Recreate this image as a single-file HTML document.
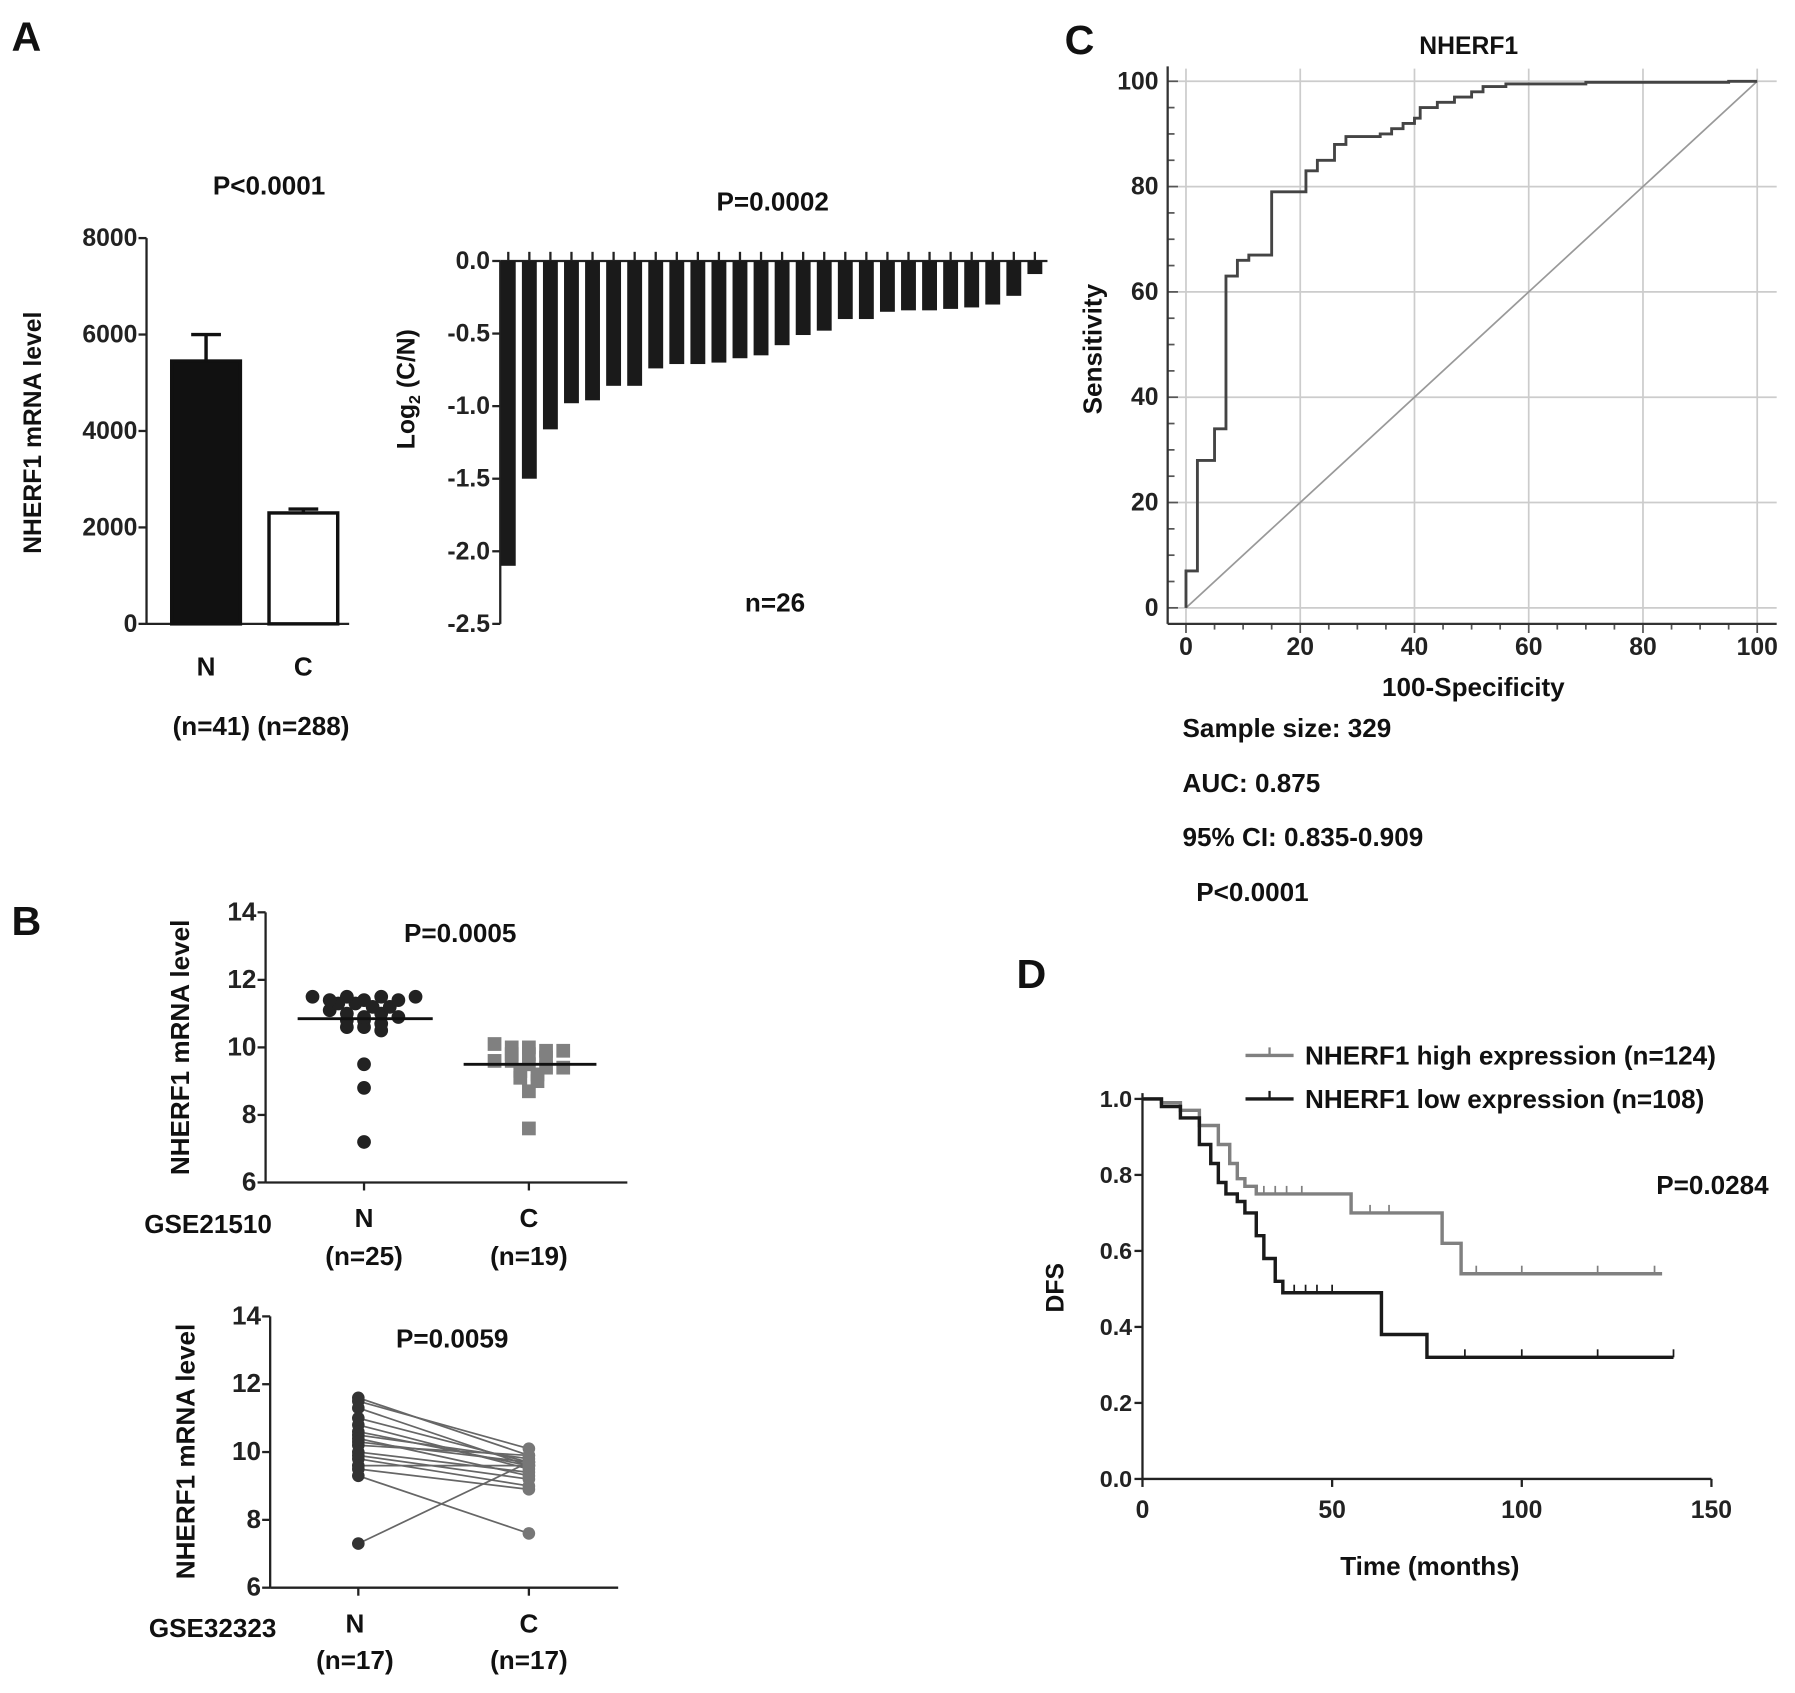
<!DOCTYPE html>
<html><head><meta charset="utf-8"><style>
html,body{margin:0;padding:0;background:#fff;}
svg{display:block;font-family:"Liberation Sans",Arial,sans-serif;font-weight:bold;}
</style></head><body>
<svg id="fig" width="1795" height="1693" viewBox="0 0 1568 1479" preserveAspectRatio="none" xmlns="http://www.w3.org/2000/svg">
<rect width="1568" height="1479" fill="#fff"/>
<g font-size="36" fill="#111">
<text x="10" y="44">A</text>
<text x="10" y="817">B</text>
<text x="930" y="47">C</text>
<text x="888" y="863">D</text>
</g>
<g id="A1"></g>
<g id="A2"></g>
<g id="C"></g>
<g id="B1"></g>
<g id="B2"></g>
<g id="D"></g>
</svg>
<script>
// ---- data ----
const barCats=["N","C"];
const barMeans=[5450,2300];
const barErr=[6000,2380];
const waterVals=[-2.1,-1.5,-1.16,-0.98,-0.96,-0.86,-0.86,-0.74,-0.71,-0.71,-0.70,-0.67,-0.65,-0.58,-0.51,-0.48,-0.40,-0.40,-0.35,-0.34,-0.34,-0.33,-0.32,-0.30,-0.24,-0.09];
const waterTicks=["0.0","-0.5","-1.0","-1.5","-2.0","-2.5"];
const rocX=[0,0,2,2,5,5,7,7,9,9,11,11,15,15,21,21,23,23,26,26,28,28,34,34,36,36,38,38,40,40,41,41,44,44,47,47,50,50,52,52,56,56,70,70,95,95,100];
const rocY=[0,7,7,28,28,34,34,63,63,66,66,67,67,79,79,83,83,85,85,88,88,89.5,89.5,90,90,91,91,92,92,93,93,95,95,96,96,97,97,98,98,99,99,99.5,99.5,99.8,99.8,100,100];
const rocTicks=[0,20,40,60,80,100];
const scatN=[11.5,11.4,11.5,11.3,11.4,11.5,11.4,11.3,11.5,11.2,11.1,11.2,11.0,10.9,11.0,10.9,10.8,10.8,10.7,10.6,10.6,10.5,9.5,8.8,7.2];
const scatC=[10.1,10.0,10.0,9.9,9.9,9.8,9.8,9.7,9.6,9.6,9.5,9.4,9.4,9.3,9.2,9.1,9.0,8.7,7.6];
const scatMeans=[10.85,9.5];
const pairN=[11.6,11.5,11.3,11.0,10.8,10.6,10.5,10.4,10.3,10.2,10.0,9.9,9.8,9.6,9.5,9.3,7.3];
const pairC=[9.9,10.1,9.6,9.7,9.5,9.6,9.8,9.3,9.7,9.9,9.4,9.2,9.0,9.6,8.9,7.6,9.7];
const kmHighT=[0,5,10,15,20,23,25,27,30,55,55,79,79,84,84,137];
const kmHighS=[1,0.99,0.97,0.93,0.88,0.83,0.79,0.77,0.75,0.75,0.70,0.70,0.62,0.62,0.54,0.54];
const kmLowT=[0,5,10,15,18,20,22,25,27,30,32,35,37,63,63,75,75,140];
const kmLowS=[1,0.98,0.95,0.88,0.83,0.78,0.75,0.73,0.70,0.64,0.58,0.52,0.49,0.49,0.38,0.38,0.32,0.32];
const kmHighCens=[32,35,38,42,60,65,88,100,120,135];
const kmLowCens=[40,43,46,50,85,100,120,140];

const NS="http://www.w3.org/2000/svg";
const FS=1.2;
function mk(p,tag,at,txt){const e=document.createElementNS(NS,tag);for(const k in at){let v=at[k];if(k==='font-size')v=Math.round(v*FS*10)/10;e.setAttribute(k,v);}if(txt!==undefined)e.textContent=txt;p.appendChild(e);return e;}
function lin(d0,d1,r0,r1){return v=>r0+(v-d0)*(r1-r0)/(d1-d0);}

// ---- A1 bar ----
(function(){
const g=document.getElementById('A1');
const y=lin(0,8000,545,208);
mk(g,'line',{x1:128,y1:208,x2:128,y2:545,stroke:'#222','stroke-width':2});
mk(g,'line',{x1:128,y1:545,x2:305,y2:545,stroke:'#222','stroke-width':2});
[0,2000,4000,6000,8000].forEach(v=>{mk(g,'line',{x1:121,y1:y(v),x2:128,y2:y(v),stroke:'#222','stroke-width':2});
const t=mk(g,'text',{x:120,y:y(v)+7,'text-anchor':'end','font-size':18,fill:'#222'},String(v));});
const xs=[180,265];
barCats.forEach((c,i)=>{
const r=mk(g,'rect',{x:xs[i]-30,y:y(barMeans[i]),width:60,height:545-y(barMeans[i]),fill:i?'#fff':'#111',stroke:'#111','stroke-width':3});


mk(g,'line',{x1:xs[i],y1:y(barMeans[i]),x2:xs[i],y2:y(barErr[i]),stroke:'#111','stroke-width':3});
mk(g,'line',{x1:xs[i]-13,y1:y(barErr[i]),x2:xs[i]+13,y2:y(barErr[i]),stroke:'#111','stroke-width':3});
mk(g,'text',{x:xs[i],y:590,'text-anchor':'middle','font-size':19,fill:'#111'},c);
});
mk(g,'text',{x:228,y:642,'text-anchor':'middle','font-size':19,fill:'#111'},"(n=41) (n=288)");
mk(g,'text',{x:235,y:170,'text-anchor':'middle','font-size':19,fill:'#111'},"P<0.0001");
mk(g,'text',{x:0,y:0,transform:'translate(36,378) rotate(-90)','text-anchor':'middle','font-size':18,fill:'#111'},"NHERF1 mRNA level");
})();

// ---- A2 waterfall ----
(function(){
const g=document.getElementById('A2');
const y=lin(0,-2.5,228,545);
const x=i=>444+i*18.4;
mk(g,'line',{x1:437,y1:228,x2:437,y2:545,stroke:'#222','stroke-width':2});
mk(g,'line',{x1:437,y1:228,x2:915,y2:228,stroke:'#222','stroke-width':2});
waterTicks.forEach(t=>{const v=parseFloat(t);mk(g,'line',{x1:430,y1:y(v),x2:437,y2:y(v),stroke:'#222','stroke-width':2});
mk(g,'text',{x:428,y:y(v)+7,'text-anchor':'end','font-size':18,fill:'#222'},t);});
waterVals.forEach((v,i)=>{
const r=mk(g,'rect',{x:x(i)-6.5,y:228,width:13,height:y(v)-228,fill:'#1a1a1a'});


mk(g,'line',{x1:x(i),y1:220,x2:x(i),y2:228,stroke:'#222','stroke-width':2});
});
mk(g,'text',{x:675,y:184,'text-anchor':'middle','font-size':19,fill:'#111'},"P=0.0002");
mk(g,'text',{x:677,y:534,'text-anchor':'middle','font-size':19,fill:'#111'},"n=26");
const t=mk(g,'text',{transform:'translate(362,340) rotate(-90)','text-anchor':'middle','font-size':18,fill:'#111'},"");
t.innerHTML='Log<tspan font-size="14" dy="5">2</tspan><tspan dy="-5"> (C/N)</tspan>';
})();

// ---- C ROC ----
(function(){
const g=document.getElementById('C');
const x=lin(0,100,1036,1535), y=lin(0,100,531,71);
rocTicks.forEach(v=>{
mk(g,'line',{x1:x(v),y1:60,x2:x(v),y2:545,stroke:'#ccc','stroke-width':1.5});
mk(g,'line',{x1:1020,y1:y(v),x2:1552,y2:y(v),stroke:'#ccc','stroke-width':1.5});
mk(g,'text',{x:x(v),y:572,'text-anchor':'middle','font-size':18,fill:'#222'},String(v));
mk(g,'text',{x:1012,y:y(v)+7,'text-anchor':'end','font-size':18,fill:'#222'},String(v));
});
for(let v=0;v<=100;v+=5){mk(g,'line',{x1:x(v),y1:545,x2:x(v),y2:v%20?550:553,stroke:'#555','stroke-width':1.5});
mk(g,'line',{x1:1020,y1:y(v),x2:v%20?1026:1029,y2:y(v),stroke:'#555','stroke-width':1.5});}
mk(g,'line',{x1:1020,y1:58,x2:1020,y2:545,stroke:'#333','stroke-width':2});
mk(g,'line',{x1:1020,y1:545,x2:1552,y2:545,stroke:'#333','stroke-width':2});
mk(g,'line',{x1:x(0),y1:y(0),x2:x(100),y2:y(100),stroke:'#999','stroke-width':1.5});
const p=mk(g,'polyline',{points:rocX.map((v,i)=>x(v)+','+y(rocY[i])).join(' '),fill:'none',stroke:'#444','stroke-width':2.5});


mk(g,'text',{x:1283,y:47,'text-anchor':'middle','font-size':18,fill:'#111'},"NHERF1");
mk(g,'text',{x:1287,y:608,'text-anchor':'middle','font-size':19,fill:'#111'},"100-Specificity");
mk(g,'text',{transform:'translate(962,305) rotate(-90)','text-anchor':'middle','font-size':19,fill:'#111'},"Sensitivity");
[["Sample size: 329",644,1033],["AUC: 0.875",692,1033],["95% CI: 0.835-0.909",739,1033],["P<0.0001",787,1045]].forEach(a=>mk(g,'text',{x:a[2],y:a[1],'font-size':19,fill:'#111'},a[0]));
})();

// ---- B1 scatter ----
(function(){
const g=document.getElementById('B1');
const y=lin(6,14,1033,797);
mk(g,'line',{x1:232,y1:797,x2:232,y2:1033,stroke:'#222','stroke-width':2});
mk(g,'line',{x1:232,y1:1033,x2:548,y2:1033,stroke:'#222','stroke-width':2});
[6,8,10,12,14].forEach(v=>{mk(g,'line',{x1:225,y1:y(v),x2:232,y2:y(v),stroke:'#222','stroke-width':2});
mk(g,'text',{x:224,y:y(v)+7,'text-anchor':'end','font-size':19,fill:'#222'},String(v));});
[318,462].forEach(cx=>mk(g,'line',{x1:cx,y1:1033,x2:cx,y2:1040,stroke:'#222','stroke-width':2}));
function swarm(vals,cx,sp,draw){
const rows={};vals.forEach(v=>{const k=Math.round(v*4);(rows[k]=rows[k]||[]).push(v);});
Object.keys(rows).forEach(k=>{const r=rows[k];r.forEach((v,j)=>{const off=(j-(r.length-1)/2)*sp;draw(cx+off,y(v));});});
}
swarm(scatN,318,15,(a,b)=>{const c=mk(g,'circle',{cx:a,cy:b,r:6,fill:'#222'});});
swarm(scatC,462,15,(a,b)=>{const c=mk(g,'rect',{x:a-6,y:b-6,width:12,height:12,fill:'#808080'});});
mk(g,'line',{x1:260,y1:y(scatMeans[0]),x2:378,y2:y(scatMeans[0]),stroke:'#111','stroke-width':2.5});
mk(g,'line',{x1:405,y1:y(scatMeans[1]),x2:521,y2:y(scatMeans[1]),stroke:'#111','stroke-width':2.5});
mk(g,'text',{x:402,y:823,'text-anchor':'middle','font-size':19,fill:'#111'},"P=0.0005");
mk(g,'text',{x:126,y:1077,'font-size':19,fill:'#111'},"GSE21510");
mk(g,'text',{x:318,y:1072,'text-anchor':'middle','font-size':19,fill:'#111'},"N");
mk(g,'text',{x:462,y:1072,'text-anchor':'middle','font-size':19,fill:'#111'},"C");
mk(g,'text',{x:318,y:1105,'text-anchor':'middle','font-size':19,fill:'#111'},"(n=25)");
mk(g,'text',{x:462,y:1105,'text-anchor':'middle','font-size':19,fill:'#111'},"(n=19)");
mk(g,'text',{transform:'translate(165,915) rotate(-90)','text-anchor':'middle','font-size':19,fill:'#111'},"NHERF1 mRNA level");
})();

// ---- B2 paired ----
(function(){
const g=document.getElementById('B2');
const y=lin(6,14,1387,1150);
mk(g,'line',{x1:236,y1:1150,x2:236,y2:1387,stroke:'#222','stroke-width':2});
mk(g,'line',{x1:236,y1:1387,x2:540,y2:1387,stroke:'#222','stroke-width':2});
[6,8,10,12,14].forEach(v=>{mk(g,'line',{x1:229,y1:y(v),x2:236,y2:y(v),stroke:'#222','stroke-width':2});
mk(g,'text',{x:228,y:y(v)+7,'text-anchor':'end','font-size':19,fill:'#222'},String(v));});
[313,462].forEach(cx=>mk(g,'line',{x1:cx,y1:1387,x2:cx,y2:1394,stroke:'#222','stroke-width':2}));
pairN.forEach((v,i)=>{const l=mk(g,'line',{x1:313,y1:y(v),x2:462,y2:y(pairC[i]),stroke:'#666','stroke-width':1.5});
});
pairN.forEach(v=>{const c=mk(g,'circle',{cx:313,cy:y(v),r:5.5,fill:'#333'});});
pairC.forEach(v=>{const c=mk(g,'circle',{cx:462,cy:y(v),r:5.5,fill:'#777'});});
mk(g,'text',{x:395,y:1177,'text-anchor':'middle','font-size':19,fill:'#111'},"P=0.0059");
mk(g,'text',{x:130,y:1430,'font-size':19,fill:'#111'},"GSE32323");
mk(g,'text',{x:310,y:1426,'text-anchor':'middle','font-size':19,fill:'#111'},"N");
mk(g,'text',{x:462,y:1426,'text-anchor':'middle','font-size':19,fill:'#111'},"C");
mk(g,'text',{x:310,y:1458,'text-anchor':'middle','font-size':19,fill:'#111'},"(n=17)");
mk(g,'text',{x:462,y:1458,'text-anchor':'middle','font-size':19,fill:'#111'},"(n=17)");
mk(g,'text',{transform:'translate(170,1268) rotate(-90)','text-anchor':'middle','font-size':19,fill:'#111'},"NHERF1 mRNA level");
})();

// ---- D KM ----
(function(){
const g=document.getElementById('D');
const x=lin(0,150,998,1495), y=lin(0,1,1292,960);
mk(g,'line',{x1:998,y1:955,x2:998,y2:1292,stroke:'#222','stroke-width':2});
mk(g,'line',{x1:998,y1:1292,x2:1495,y2:1292,stroke:'#222','stroke-width':2});
[0,0.2,0.4,0.6,0.8,1.0].forEach(v=>{mk(g,'line',{x1:991,y1:y(v),x2:998,y2:y(v),stroke:'#222','stroke-width':2});
mk(g,'text',{x:989,y:y(v)+7,'text-anchor':'end','font-size':17,fill:'#222'},v.toFixed(1));});
[0,50,100,150].forEach(v=>{mk(g,'line',{x1:x(v),y1:1292,x2:x(v),y2:1299,stroke:'#222','stroke-width':2});
mk(g,'text',{x:x(v),y:1326,'text-anchor':'middle','font-size':18,fill:'#222'},String(v));});
function step(T,S){let d='M'+x(T[0])+','+y(S[0]);for(let i=1;i<T.length;i++){d+=' L'+x(T[i])+','+y(S[i-1])+' L'+x(T[i])+','+y(S[i]);}return d;}
const hi=mk(g,'path',{d:step(kmHighT,kmHighS),fill:'none',stroke:'#808080','stroke-width':3});

const lo=mk(g,'path',{d:step(kmLowT,kmLowS),fill:'none',stroke:'#1a1a1a','stroke-width':3});

function surv(T,S,t){let s=S[0];for(let i=0;i<T.length;i++){if(T[i]<=t)s=S[i];}return s;}
kmHighCens.forEach(t=>{const yy=y(surv(kmHighT,kmHighS,t));mk(g,'line',{x1:x(t),y1:yy-7,x2:x(t),y2:yy,stroke:'#808080','stroke-width':1.5});});
kmLowCens.forEach(t=>{const yy=y(surv(kmLowT,kmLowS,t));mk(g,'line',{x1:x(t),y1:yy-7,x2:x(t),y2:yy,stroke:'#1a1a1a','stroke-width':1.5});});
const l1=mk(g,'g',{});
mk(l1,'line',{x1:1088,y1:922,x2:1130,y2:922,stroke:'#808080','stroke-width':3});
mk(l1,'line',{x1:1109,y1:915,x2:1109,y2:922,stroke:'#808080','stroke-width':2});
mk(l1,'text',{x:1140,y:930,'font-size':19,fill:'#111'},"NHERF1 high expression (n=124)");
const l2=mk(g,'g',{});
mk(l2,'line',{x1:1088,y1:960,x2:1130,y2:960,stroke:'#1a1a1a','stroke-width':3});
mk(l2,'line',{x1:1109,y1:953,x2:1109,y2:960,stroke:'#1a1a1a','stroke-width':2});
mk(l2,'text',{x:1140,y:968,'font-size':19,fill:'#111'},"NHERF1 low expression (n=108)");
mk(g,'text',{x:1545,y:1043,'text-anchor':'end','font-size':19,fill:'#111'},"P=0.0284");
mk(g,'text',{x:1249,y:1376,'text-anchor':'middle','font-size':19,fill:'#111'},"Time (months)");
mk(g,'text',{transform:'translate(929,1125) rotate(-90)','text-anchor':'middle','font-size':18,fill:'#111'},"DFS");
})();
</script>
</body></html>
